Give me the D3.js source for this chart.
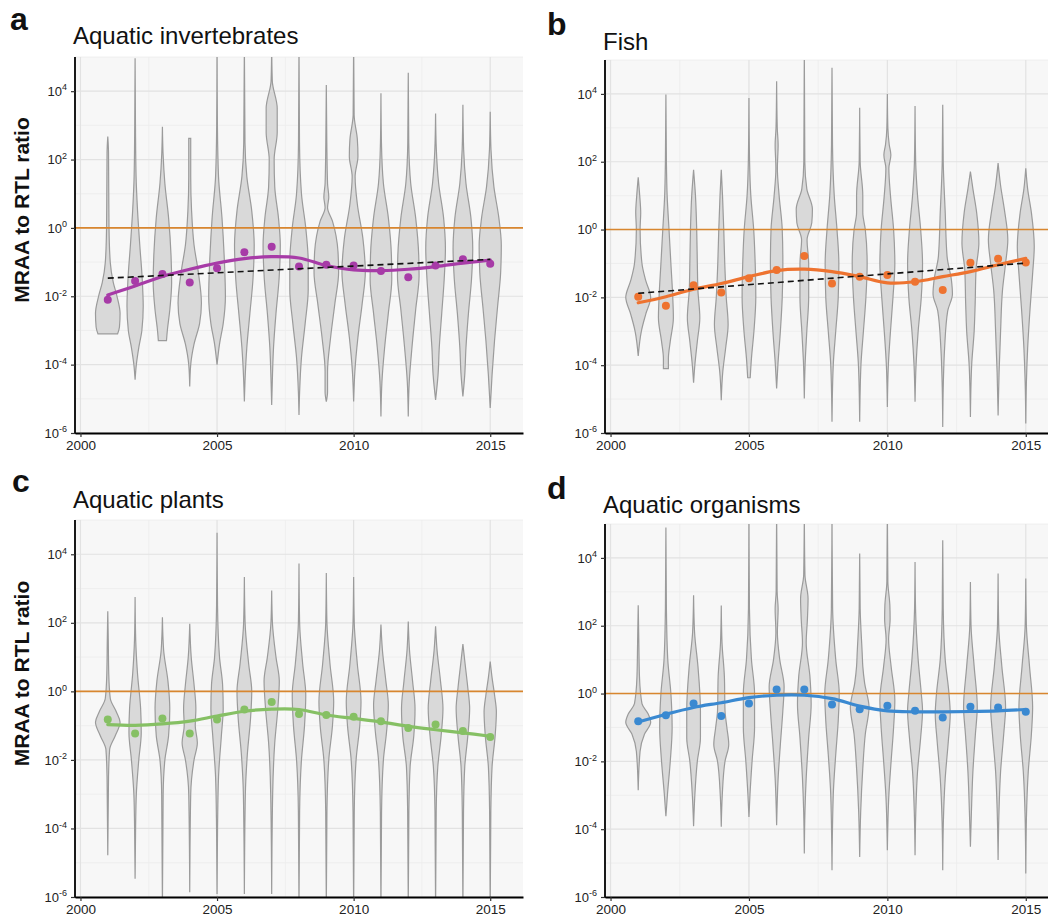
<!DOCTYPE html>
<html>
<head>
<meta charset="utf-8">
<script src="https://cdn.jsdelivr.net/npm/d3@7"></script>
<style>
  body { margin: 0; background: #fff; }
  svg { font-family: "Liberation Sans", Arial, sans-serif; }
</style>
</head>
<body>
<script>
var width = 1048,
    height = 917;

// years on the x axis (one violin per year)
var years = [2001, 2002, 2003, 2004, 2005, 2006, 2007, 2008, 2009, 2010, 2011, 2012, 2013, 2014, 2015];
var yTicks = [-6, -4, -2, 0, 2, 4];          // log10 of MRAA/RTL
var yMinor = [-5, -3, -1, 1, 3, 5];
var xTicks = [2000, 2005, 2010, 2015];
var xMinor = [2002.5, 2007.5, 2012.5];

// violin outlines: [log10 value, relative half width] from top to bottom, one per year
var violinsA = [
  [[2.67,0],[2.2,0.06],[1,0.08],[0,0.1],[-1,0.2],[-1.6,0.45],[-2,0.75],[-2.5,1],[-2.9,0.95],[-3.1,0.8]],
  [[4.96,0],[3,0.03],[1.5,0.08],[0.5,0.2],[-0.5,0.38],[-1.5,0.58],[-2.3,0.66],[-3,0.55],[-3.5,0.3],[-4,0.1],[-4.44,0]],
  [[2.96,0],[2.2,0.05],[1.3,0.2],[0.3,0.5],[-0.8,0.7],[-1.6,0.75],[-2.4,0.6],[-3,0.4],[-3.3,0.33]],
  [[2.62,0.08],[1.5,0.08],[0.5,0.15],[-0.5,0.35],[-1.3,0.7],[-2.2,0.95],[-2.8,0.8],[-3.4,0.35],[-4,0.08],[-4.64,0]],
  [[5.3,0],[3,0.03],[1.5,0.12],[0.3,0.4],[-1,0.6],[-2,0.68],[-2.8,0.5],[-3.4,0.2],[-4.0,0]],
  [[5.3,0],[2.5,0.05],[1.5,0.2],[0.5,0.6],[-0.5,0.8],[-1.5,0.7],[-2.5,0.45],[-3.5,0.2],[-4.5,0.05],[-5.08,0]],
  [[5.3,0],[4.3,0.05],[3.5,0.45],[2.8,0.45],[2,0.2],[1.2,0.25],[0.3,0.55],[-0.5,0.7],[-1.5,0.6],[-2.5,0.35],[-3.5,0.15],[-4.5,0.05],[-5.18,0]],
  [[5.3,0],[2.5,0.04],[1,0.2],[0,0.55],[-1,0.75],[-1.8,0.75],[-2.8,0.5],[-3.8,0.2],[-4.8,0.05],[-5.47,0]],
  [[4.18,0],[2.5,0.04],[1.3,0.1],[0.9,0.2],[0.6,0.1],[0.2,0.5],[-0.7,0.95],[-1.3,1],[-2.2,0.7],[-3.2,0.35],[-4.2,0.1],[-4.8,0.1],[-5.08,0]],
  [[5.3,0],[3.3,0.04],[2.6,0.3],[2.1,0.35],[1.5,0.12],[0.7,0.3],[-0.3,0.75],[-1.3,0.95],[-2.2,0.7],[-3.2,0.35],[-4.2,0.1],[-5.08,0]],
  [[3.94,0],[2.5,0.04],[1.3,0.2],[0.3,0.6],[-0.8,0.85],[-1.5,0.88],[-2.5,0.6],[-3.5,0.3],[-4.5,0.08],[-5.52,0]],
  [[4.54,0],[2.5,0.04],[1.3,0.2],[0.3,0.6],[-0.8,0.85],[-1.4,0.88],[-2.4,0.6],[-3.5,0.3],[-4.5,0.08],[-5.52,0]],
  [[3.35,0],[2.3,0.06],[1.3,0.25],[0.3,0.65],[-0.6,0.8],[-1.5,0.7],[-2.5,0.5],[-3.5,0.3],[-4.3,0.2],[-5.03,0]],
  [[3.6,0],[2.3,0.06],[1.3,0.25],[0.3,0.65],[-0.6,0.8],[-1.5,0.7],[-2.5,0.45],[-3.5,0.25],[-4.3,0.15],[-4.93,0]],
  [[3.4,0],[2.3,0.06],[1.2,0.3],[0.3,0.7],[-0.5,0.9],[-1.3,0.85],[-2.3,0.6],[-3.3,0.35],[-4.3,0.15],[-5.27,0]]
];
var violinsB = [
  [[1.54,0],[1,0.12],[0.5,0.2],[0,0.15],[-1,0.3],[-1.5,0.6],[-2,1],[-2.5,0.6],[-3,0.25],[-3.73,0]],
  [[3.98,0],[2,0.04],[1,0.1],[0,0.25],[-1,0.4],[-2,0.55],[-2.6,0.6],[-3.3,0.35],[-3.8,0.2],[-4.1,0.2]],
  [[1.76,0],[1,0.15],[0,0.25],[-1,0.3],[-1.8,0.35],[-2.6,0.5],[-3.3,0.3],[-4,0.1],[-4.52,0]],
  [[1.76,0],[1,0.1],[0,0.2],[-1,0.28],[-2,0.4],[-2.8,0.55],[-3.5,0.35],[-4.2,0.12],[-5.03,0]],
  [[3.88,0],[2,0.05],[1,0.15],[0,0.38],[-1,0.5],[-2,0.55],[-3,0.4],[-3.8,0.2],[-4.37,0.1]],
  [[4.37,0],[3,0.05],[2.5,0.12],[1.8,0.06],[1,0.2],[0,0.45],[-1,0.5],[-2,0.45],[-3,0.3],[-4,0.1],[-4.69,0]],
  [[5.3,0],[2,0.04],[1.2,0.2],[0.6,0.65],[0.2,0.6],[-0.3,0.22],[-1,0.35],[-2,0.35],[-3,0.2],[-4,0.06],[-4.98,0]],
  [[4.77,0],[2.5,0.04],[1,0.18],[0,0.4],[-1,0.55],[-2,0.5],[-3,0.3],[-4,0.1],[-5.67,0]],
  [[3.59,0],[2,0.04],[1,0.25],[0.5,0.25],[0,0.45],[-1,0.6],[-2,0.5],[-3,0.3],[-4,0.1],[-5.67,0]],
  [[4.0,0],[3,0.04],[2.5,0.15],[2.2,0.28],[1.8,0.12],[1,0.25],[0,0.5],[-1,0.6],[-2,0.45],[-3,0.25],[-4,0.08],[-5.23,0]],
  [[3.64,0],[2,0.05],[1,0.2],[0,0.45],[-1,0.6],[-2,0.5],[-3,0.25],[-4,0.08],[-5.08,0]],
  [[3.68,0],[2,0.04],[0.5,0.2],[-0.8,0.35],[-1.5,0.7],[-1.9,0.78],[-2.4,0.4],[-3.5,0.15],[-4.5,0.05],[-5.82,0]],
  [[1.71,0],[1.2,0.2],[0.5,0.5],[-0.4,0.68],[-1.2,0.45],[-2.2,0.38],[-3,0.3],[-4,0.1],[-5.53,0]],
  [[1.96,0],[1.3,0.2],[0.6,0.5],[-0.3,0.78],[-1,0.6],[-1.8,0.35],[-3,0.2],[-4.2,0.08],[-5.48,0]],
  [[1.81,0],[1.2,0.15],[0.5,0.45],[-0.5,0.68],[-1.3,0.55],[-2.3,0.35],[-3.5,0.15],[-4.5,0.05],[-5.72,0]]
];
var violinsC = [
  [[2.34,0],[1.5,0.04],[0.5,0.08],[-0.2,0.2],[-0.6,0.7],[-0.9,1],[-1.3,0.6],[-1.7,0.15],[-2.5,0.06],[-4.78,0]],
  [[2.75,0],[1.5,0.05],[0.5,0.2],[-0.5,0.45],[-1.2,0.5],[-2,0.3],[-3,0.1],[-4,0.04],[-5.47,0]],
  [[2.16,0],[1.2,0.1],[0.3,0.45],[-0.5,0.6],[-1.3,0.5],[-2,0.2],[-3,0.06],[-6.3,0]],
  [[1.97,0],[1,0.12],[0.2,0.35],[-0.5,0.5],[-1,0.45],[-1.5,0.62],[-2,0.35],[-3,0.08],[-5.86,0]],
  [[4.63,0],[2.5,0.04],[1,0.2],[0.2,0.45],[-0.5,0.5],[-1.3,0.35],[-2.5,0.12],[-4,0.04],[-5.91,0]],
  [[3.34,0],[2,0.06],[0.8,0.35],[0,0.6],[-0.8,0.5],[-1.8,0.25],[-3,0.08],[-5.91,0]],
  [[2.94,0],[2,0.06],[1,0.35],[0.3,0.62],[-0.5,0.5],[-1.5,0.25],[-3,0.08],[-5.91,0]],
  [[3.73,0],[2,0.05],[0.8,0.3],[-0.1,0.55],[-1,0.45],[-2,0.2],[-3.5,0.05],[-6.3,0]],
  [[3.45,0],[2,0.05],[0.8,0.3],[-0.3,0.6],[-1,0.5],[-2,0.2],[-3.5,0.05],[-6.3,0]],
  [[3.34,0],[2,0.05],[0.8,0.3],[-0.3,0.6],[-1,0.5],[-2,0.2],[-3.5,0.05],[-6.3,0]],
  [[1.95,0],[1.2,0.12],[0.3,0.4],[-0.4,0.6],[-1.2,0.45],[-2,0.2],[-3.5,0.05],[-6.3,0]],
  [[2.04,0],[1.2,0.1],[0.3,0.35],[-0.5,0.55],[-1.3,0.45],[-2.2,0.15],[-3.5,0.05],[-6.3,0]],
  [[1.9,0],[1.2,0.12],[0.3,0.4],[-0.5,0.6],[-1.3,0.45],[-2.2,0.18],[-3.5,0.05],[-6.3,0]],
  [[1.38,0],[0.8,0.18],[0.1,0.4],[-0.5,0.55],[-1.3,0.4],[-2.2,0.15],[-3.5,0.05],[-6.3,0]],
  [[0.87,0],[0.4,0.15],[-0.1,0.35],[-0.6,0.5],[-1.3,0.4],[-2.2,0.15],[-3.5,0.05],[-6.3,0]]
];
var violinsD = [
  [[2.6,0],[1.5,0.05],[0.5,0.1],[-0.3,0.3],[-0.6,0.8],[-0.85,1],[-1.2,0.5],[-1.7,0.15],[-2.85,0]],
  [[4.9,0],[2.5,0.04],[1,0.15],[0,0.4],[-1,0.5],[-2,0.35],[-3,0.12],[-3.62,0]],
  [[2.9,0],[1.8,0.08],[0.8,0.35],[-0.5,0.55],[-1.3,0.55],[-2,0.3],[-3,0.1],[-3.91,0]],
  [[2.6,0],[1.5,0.06],[0.5,0.25],[-0.5,0.3],[-1,0.45],[-1.5,0.6],[-2,0.3],[-3,0.08],[-3.93,0]],
  [[5.3,0],[2.5,0.04],[1,0.2],[0,0.45],[-1,0.45],[-2,0.25],[-3,0.08],[-3.64,0]],
  [[5.3,0],[3,0.04],[2.5,0.12],[1.8,0.06],[1,0.25],[0.2,0.6],[-0.5,0.5],[-1.5,0.3],[-2.5,0.12],[-3.88,0]],
  [[5.3,0],[3.5,0.05],[2.8,0.3],[2.2,0.25],[1.5,0.15],[0.5,0.45],[-0.3,0.55],[-1.3,0.35],[-2.5,0.15],[-3.5,0.05],[-4.72,0]],
  [[5.3,0],[2.5,0.05],[1,0.3],[0,0.58],[-0.8,0.5],[-1.8,0.3],[-3,0.1],[-5.21,0]],
  [[4.13,0],[2.5,0.04],[1.2,0.2],[0.8,0.25],[0.3,0.4],[-0.4,0.75],[-1.2,0.45],[-2.2,0.25],[-3.5,0.08],[-4.82,0]],
  [[5.3,0],[3.3,0.04],[2.6,0.2],[2.2,0.22],[1.6,0.1],[0.8,0.3],[-0.2,0.6],[-1,0.5],[-2,0.3],[-3,0.12],[-4.62,0]],
  [[3.88,0],[2.5,0.04],[1,0.25],[0,0.5],[-0.5,0.6],[-1.3,0.45],[-2.3,0.2],[-3.5,0.06],[-4.77,0]],
  [[4.52,0],[2.5,0.04],[1,0.2],[0,0.5],[-0.6,0.6],[-1.4,0.45],[-2.5,0.2],[-3.8,0.05],[-5.21,0]],
  [[3.29,0],[2,0.05],[0.8,0.3],[-0.4,0.55],[-1.2,0.4],[-2.3,0.2],[-3.5,0.08],[-4.52,0]],
  [[3.54,0],[2,0.05],[0.8,0.3],[-0.4,0.6],[-1.2,0.45],[-2.3,0.2],[-3.5,0.07],[-4.91,0]],
  [[3.39,0],[2,0.05],[0.8,0.3],[-0.4,0.55],[-1.2,0.45],[-2.3,0.2],[-3.7,0.05],[-5.31,0]]
];

// yearly medians (log10) shown as points
var pointsA = [-2.1, -1.55, -1.35, -1.6, -1.18, -0.71, -0.55, -1.13, -1.08, -1.1, -1.26, -1.44, -1.1, -0.92, -1.05];
var pointsB = [-1.98, -2.25, -1.64, -1.86, -1.44, -1.19, -0.78, -1.59, -1.39, -1.34, -1.54, -1.78, -0.98, -0.86, -0.97];
var pointsC = [-0.82, -1.23, -0.79, -1.23, -0.82, -0.53, -0.31, -0.66, -0.69, -0.74, -0.87, -1.07, -0.97, -1.16, -1.33];
var pointsD = [-0.82, -0.64, -0.29, -0.66, -0.29, 0.12, 0.12, -0.32, -0.46, -0.36, -0.51, -0.71, -0.39, -0.41, -0.54];

// smoothed (loess) curve read at each year
var loessA = [-1.96, -1.7, -1.42, -1.21, -1.03, -0.9, -0.84, -0.88, -1.1, -1.23, -1.25, -1.21, -1.13, -1.03, -0.94];
var loessB = [-2.16, -1.98, -1.76, -1.59, -1.39, -1.21, -1.17, -1.24, -1.39, -1.57, -1.54, -1.39, -1.24, -1.04, -0.85];
var loessC = [-0.97, -0.99, -0.95, -0.87, -0.72, -0.58, -0.52, -0.53, -0.69, -0.79, -0.89, -1.02, -1.12, -1.21, -1.31];
var loessD = [-0.84, -0.61, -0.41, -0.27, -0.12, -0.05, -0.05, -0.15, -0.37, -0.51, -0.54, -0.54, -0.53, -0.51, -0.47];

// linear trend (dashed), log10 at 2001 and 2015
var trendA = [-1.47, -0.92];
var trendB = [-1.88, -0.99];

var panels = [
  {letter: "a", title: "Aquatic invertebrates", color: "#a73ba7", violins: violinsA, points: pointsA, loess: loessA, trend: trendA,
   x0: 75, x1: 523, top: 57, bottom: 433, ylab: true, lx: 10, ly: 30, ty: 44},
  {letter: "b", title: "Fish", color: "#ee7330", violins: violinsB, points: pointsB, loess: loessB, trend: trendB,
   x0: 605, x1: 1059, top: 60, bottom: 433, ylab: false, lx: 547, ly: 35, ty: 50},
  {letter: "c", title: "Aquatic plants", color: "#86c064", violins: violinsC, points: pointsC, loess: loessC, trend: null,
   x0: 75, x1: 523, top: 520, bottom: 897, ylab: true, lx: 12, ly: 492, ty: 508},
  {letter: "d", title: "Aquatic organisms", color: "#3a89d1", violins: violinsD, points: pointsD, loess: loessD, trend: null,
   x0: 605, x1: 1059, top: 524, bottom: 897, ylab: false, lx: 547, ly: 499, ty: 513}
];

var svg = d3.select("body").append("svg").attr("width", width).attr("height", height);

panels.forEach(function(p, k) {
  var x = d3.scaleLinear().domain([1999.8, 2016.2]).range([p.x0, p.x1]);
  var y = d3.scaleLinear().domain([-6, 5]).range([p.bottom, p.top]);
  var g = svg.append("g");
  var right = Math.min(p.x1, width);

  g.append("clipPath").attr("id", "clip" + k)
    .append("rect").attr("x", p.x0).attr("y", p.top).attr("width", right - p.x0).attr("height", p.bottom - p.top);

  // panel background and grid
  g.append("rect").attr("x", p.x0).attr("y", p.top).attr("width", right - p.x0).attr("height", p.bottom - p.top)
    .attr("fill", "#f7f7f7");
  g.selectAll("line.ymin").data(yMinor).enter().append("line")
    .attr("x1", p.x0).attr("x2", right).attr("y1", d => y(d)).attr("y2", d => y(d))
    .attr("stroke", "#ececec").attr("stroke-width", 0.8);
  g.selectAll("line.xmin").data(xMinor).enter().append("line")
    .attr("y1", p.top).attr("y2", p.bottom).attr("x1", d => x(d)).attr("x2", d => x(d))
    .attr("stroke", "#ececec").attr("stroke-width", 0.8);
  g.selectAll("line.ymaj").data(yTicks).enter().append("line")
    .attr("x1", p.x0).attr("x2", right).attr("y1", d => y(d)).attr("y2", d => y(d))
    .attr("stroke", "#e2e2e2").attr("stroke-width", 1.2);
  g.selectAll("line.xmaj").data(xTicks).enter().append("line")
    .attr("y1", p.top).attr("y2", p.bottom).attr("x1", d => x(d)).attr("x2", d => x(d))
    .attr("stroke", "#e2e2e2").attr("stroke-width", 1.2);

  var plot = g.append("g").attr("clip-path", "url(#clip" + k + ")");

  // violins
  var area = d3.area()
    .curve(d3.curveMonotoneY)
    .y(d => y(d.v))
    .x0(d => x(d.yr - d.w * 0.45))
    .x1(d => x(d.yr + d.w * 0.45));
  p.violins.forEach(function(prof, i) {
    var pts = prof.map(d => ({yr: years[i], v: d[0], w: d[1]}));
    plot.append("path").attr("d", area(pts))
      .attr("fill", "#d9d9d9").attr("stroke", "#9b9b9b").attr("stroke-width", 1.2);
  });

  // reference line at ratio 1
  plot.append("line").attr("x1", p.x0).attr("x2", right).attr("y1", y(0)).attr("y2", y(0))
    .attr("stroke", "#d8862f").attr("stroke-width", 1.6);

  // medians
  plot.selectAll("circle").data(p.points).enter().append("circle")
    .attr("cx", (d, i) => x(years[i])).attr("cy", d => y(d)).attr("r", 4)
    .attr("fill", p.color);

  // smooth
  var line = d3.line().curve(d3.curveCatmullRom).x((d, i) => x(years[i])).y(d => y(d));
  plot.append("path").attr("d", line(p.loess))
    .attr("fill", "none").attr("stroke", p.color).attr("stroke-width", 3.2).attr("stroke-linecap", "round");

  if (p.trend) {
    plot.append("line")
      .attr("x1", x(years[0])).attr("x2", x(years[years.length - 1]))
      .attr("y1", y(p.trend[0])).attr("y2", y(p.trend[1]))
      .attr("stroke", "#111").attr("stroke-width", 1.6).attr("stroke-dasharray", "6,4");
  }

  // axes
  var ax = g.append("g").attr("transform", "translate(0," + p.bottom + ")")
    .call(d3.axisBottom(x).tickValues(xTicks).tickFormat(d3.format("d")).tickSize(4).tickSizeOuter(0));
  ax.select(".domain").attr("stroke", "#000").attr("stroke-width", 1.8);
  ax.selectAll(".tick line").attr("stroke", "#333").attr("stroke-width", 1.2);
  ax.selectAll(".tick text").attr("font-size", 13.5).attr("fill", "#222").attr("y", 6).attr("dy", "0.8em")
    .attr("font-family", "Liberation Sans, Arial, sans-serif");

  var ay = g.append("g").attr("transform", "translate(" + p.x0 + ",0)")
    .call(d3.axisLeft(y).tickValues(yTicks).tickSize(4).tickSizeOuter(0).tickFormat(""));
  ay.select(".domain").attr("d", "M0," + p.top + "V" + (p.bottom + 1))
    .attr("stroke", "#000").attr("stroke-width", 1.8);
  ay.selectAll(".tick line").attr("stroke", "#333").attr("stroke-width", 1.2);
  ay.selectAll(".tick text").each(function(d) {
    var t = d3.select(this).attr("font-size", 13).attr("fill", "#222").attr("x", -8)
      .attr("font-family", "Liberation Sans, Arial, sans-serif");
    t.append("tspan").text("10");
    t.append("tspan").text(d).attr("font-size", 9).attr("dy", "-0.6em");
  });

  // titles
  svg.append("text").attr("x", p.lx).attr("y", p.ly).text(p.letter)
    .attr("font-size", 32).attr("font-weight", "bold").attr("fill", "#111");
  svg.append("text").attr("x", p.x0 - 2).attr("y", p.ty).text(p.title)
    .attr("font-size", 24).attr("fill", "#111");
  if (p.ylab) {
    svg.append("text")
      .attr("transform", "translate(29," + ((p.top + p.bottom) / 2 - 35) + ") rotate(-90)")
      .attr("text-anchor", "middle").text("MRAA to RTL ratio")
      .attr("font-size", 21).attr("font-weight", "bold").attr("fill", "#111");
  }
});
</script>
</body>
</html>
